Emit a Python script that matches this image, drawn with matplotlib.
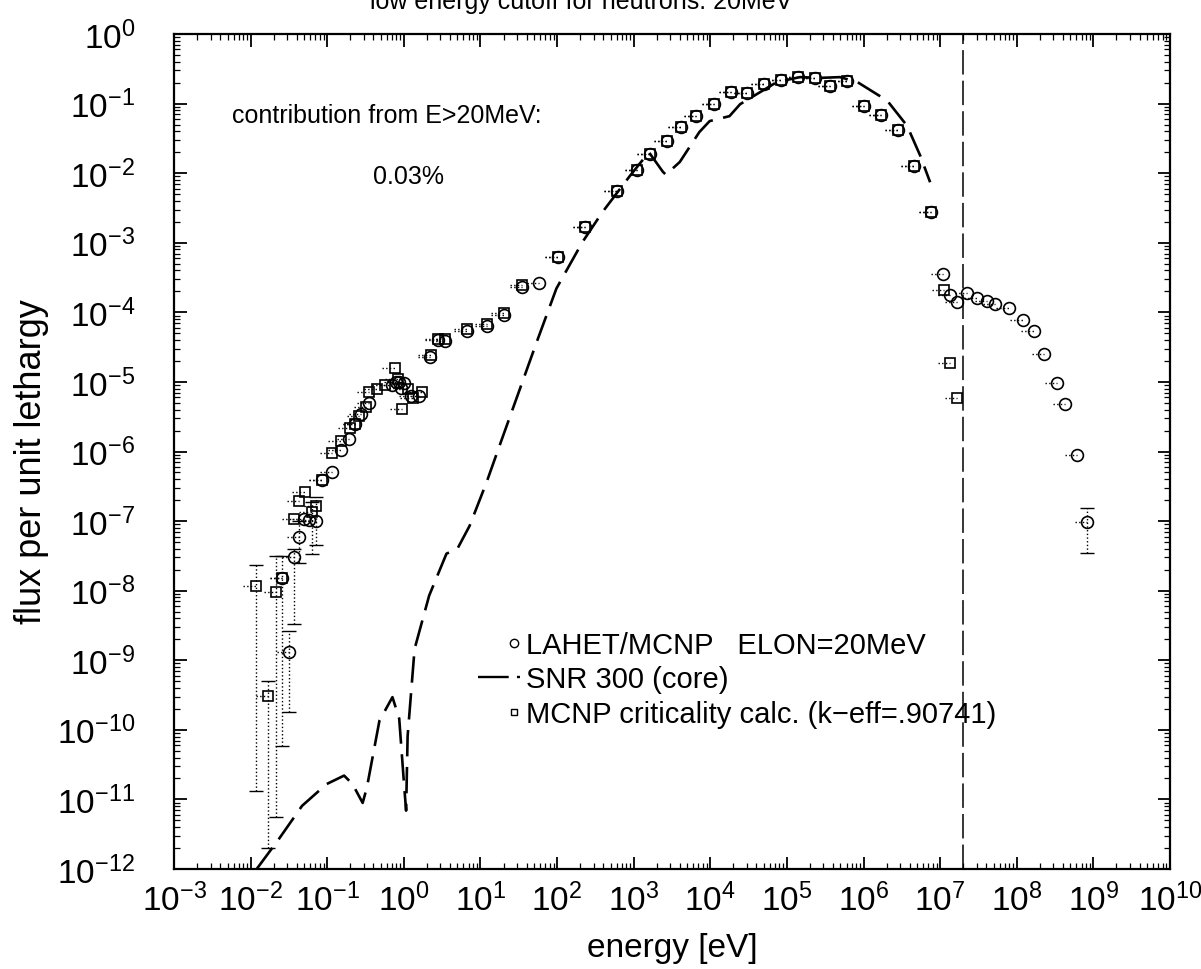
import numpy as np
import matplotlib
matplotlib.use("Agg")
from matplotlib import pyplot as plt
from matplotlib.lines import Line2D
from matplotlib.legend_handler import HandlerLine2D
from matplotlib.ticker import LogLocator, NullFormatter

plt.rcParams['font.family'] = ['Liberation Sans', 'DejaVu Sans']
plt.rcParams['mathtext.default'] = 'regular'

# LAHET/MCNP  ELON=20MeV   (energy [eV], flux per unit lethargy)
lahet_e = [0.026, 0.032, 0.037, 0.043, 0.050, 0.058, 0.072, 0.085, 0.117, 0.15,
           0.195, 0.23, 0.28, 0.35, 0.71, 0.79, 0.87, 0.93, 1.0, 1.25, 1.6,
           2.2, 2.75, 3.4, 6.6, 12.3, 20, 35, 58, 102, 234, 600, 1100, 1620,
           2700, 4100, 6600, 1.12e4, 1.86e4, 3.0e4, 5.0e4, 8.3e4, 1.38e5,
           2.3e5, 3.7e5, 6.0e5, 1.02e6, 1.7e6, 2.8e6, 4.5e6, 7.6e6, 1.1e7,
           1.35e7, 1.66e7, 2.24e7, 3.0e7, 4.1e7, 5.2e7, 7.8e7, 1.2e8, 1.66e8,
           2.3e8, 3.4e8, 4.3e8, 6.2e8, 8.3e8]
lahet_f = [1.5e-8, 1.3e-9, 3.0e-8, 5.9e-8, 1.07e-7, 1.05e-7, 1.0e-7, 3.9e-7,
           5.1e-7, 1.05e-6, 1.5e-6, 2.5e-6, 3.5e-6, 5.0e-6, 8.9e-6, 1.0e-5,
           1.0e-5, 8.3e-6, 9.5e-6, 6.3e-6, 6.3e-6, 2.3e-5, 4.0e-5, 3.9e-5,
           5.4e-5, 6.3e-5, 9.1e-5, 2.3e-4, 2.6e-4, 6.3e-4, 1.7e-3, 5.5e-3,
           1.12e-2, 1.9e-2, 2.9e-2, 4.6e-2, 6.6e-2, 9.8e-2, 0.145, 0.141, 0.19,
           0.22, 0.24, 0.234, 0.18, 0.21, 0.093, 0.069, 0.042, 0.0126, 2.75e-3,
           3.5e-4, 1.75e-4, 1.4e-4, 1.9e-4, 1.62e-4, 1.45e-4, 1.32e-4, 1.15e-4,
           7.8e-5, 5.4e-5, 2.5e-5, 9.8e-6, 4.8e-6, 8.9e-7, 9.8e-8]

# MCNP criticality calc. (k-eff=.90741)
mcnp_e = [0.0117, 0.017, 0.0214, 0.026, 0.037, 0.043, 0.051, 0.063, 0.072,
          0.085, 0.117, 0.15, 0.20, 0.23, 0.26, 0.32, 0.35, 0.44, 0.56, 0.76,
          0.83, 0.95, 1.12, 1.3, 1.7, 2.24, 2.75, 3.4, 6.6, 12.3, 20, 35, 102,
          234, 600, 1100, 1620, 2700, 4100, 6600, 1.12e4, 1.86e4, 3.0e4, 5.0e4,
          8.3e4, 1.38e5, 2.3e5, 3.7e5, 6.0e5, 1.02e6, 1.7e6, 2.8e6, 4.5e6,
          7.6e6, 1.12e7, 1.35e7, 1.66e7]
mcnp_f = [1.17e-8, 3.1e-10, 9.5e-9, 1.5e-8, 1.07e-7, 1.95e-7, 2.6e-7, 1.35e-7,
          1.65e-7, 3.9e-7, 9.5e-7, 1.4e-6, 2.2e-6, 2.5e-6, 3.2e-6, 4.4e-6,
          7.1e-6, 7.9e-6, 8.9e-6, 1.6e-5, 1.1e-5, 4.1e-6, 7.9e-6, 5.8e-6,
          7.1e-6, 2.45e-5, 4.2e-5, 4.1e-5, 5.8e-5, 6.8e-5, 9.8e-5, 2.5e-4,
          6.3e-4, 1.7e-3, 5.6e-3, 1.12e-2, 1.9e-2, 2.9e-2, 4.6e-2, 6.6e-2,
          9.8e-2, 0.145, 0.141, 0.19, 0.22, 0.24, 0.234, 0.18, 0.21, 0.093,
          0.069, 0.042, 0.0126, 2.75e-3, 2.1e-4, 1.85e-5, 5.9e-6]

# vertical (statistical) error bars that are visible in the plot
err_e = [0.0117, 0.017, 0.0214, 0.026, 0.032, 0.037, 0.043, 0.063, 0.072, 8.3e8]
err_f = [1.17e-8, 3.1e-10, 9.5e-9, 1.5e-8, 1.3e-9, 3.0e-8, 5.9e-8, 1.35e-7, 1.0e-7, 9.8e-8]
err_lo = [1.3e-11, 2.0e-12, 5.6e-12, 5.9e-11, 1.8e-10, 3.3e-9, 2.5e-8, 3.4e-8, 4.5e-8, 3.5e-8]
err_hi = [2.3e-8, 5.0e-10, 3.1e-8, 3.1e-8, 2.6e-9, 4.0e-8, 1.0e-7, 1.9e-7, 2.2e-7, 1.55e-7]

# SNR 300 (core)
snr_e = [0.012, 0.0234, 0.047, 0.098, 0.166, 0.214, 0.29, 0.33, 0.48, 0.71,
         0.87, 1.0, 1.07, 1.12, 1.38, 2.14, 3.6, 5.0, 7.2, 12, 18.6, 54, 98,
         214, 390, 890, 1580, 2400, 2630, 4000, 7200, 9800, 1.78e4, 2.45e4,
         4.1e4, 7.4e4, 1.48e5, 2.7e5, 4.9e5, 8.3e5, 2.04e6, 3.7e6, 5.5e6, 7.4e6]
snr_f = [1.0e-12, 2.7e-12, 8.1e-12, 1.66e-11, 2.2e-11, 1.66e-11, 8.9e-12,
         1.5e-11, 1.35e-10, 2.95e-10, 1.45e-10, 1.8e-11, 6.9e-12, 8.1e-11,
         1.45e-9, 8.5e-9, 3.4e-8, 4.0e-8, 8.5e-8, 3.6e-7, 1.4e-6, 3.7e-5,
         2.2e-4, 1.02e-3, 2.75e-3, 9.1e-3, 2.0e-2, 1.05e-2, 9.5e-3, 1.45e-2,
         3.9e-2, 5.6e-2, 6.6e-2, 9.8e-2, 0.138, 0.204, 0.24, 0.234, 0.24,
         0.204, 0.11, 0.048, 0.0178, 7.4e-3]

E_CUT = 2e7   # 20 MeV


class MarkerRight(HandlerLine2D):
    # put the single legend marker near the right end of the handle
    def get_xdata(self, legend, xdescent, ydescent, width, height, fontsize):
        x1 = -xdescent + width
        return [x1 - 0.4 * fontsize, x1], [x1 - 0.2 * fontsize]


W, H = 1201, 970
fig = plt.figure(figsize=(W / 100, H / 100), dpi=100)
ax = fig.add_axes([174 / W, 100 / H, 996 / W, 835 / H])

# small dotted bin-width bars to the left of every point
for e, f in ((lahet_e, lahet_f), (mcnp_e, mcnp_f)):
    e = np.array(e)
    eb = ax.errorbar(e, f, xerr=[e - e / 1.45, np.zeros(len(e))], fmt='none',
                     ecolor='k', elinewidth=1.0)
    eb[2][0].set_linestyle(':')

eb = ax.errorbar(err_e, err_f,
                 yerr=[np.array(err_f) - np.array(err_lo), np.array(err_hi) - np.array(err_f)],
                 fmt='none', ecolor='k', elinewidth=1.0, capsize=5, capthick=1.0)
eb[2][0].set_linestyle(':')

ax.plot(snr_e, snr_f, color='k', lw=1.9, dashes=(10, 4))
ax.plot(lahet_e, lahet_f, 'o', ms=8.5, mfc='none', mec='k', mew=1.2)
ax.plot(mcnp_e, mcnp_f, 's', ms=6.5, mfc='none', mec='k', mew=1.2)
ax.axvline(E_CUT, color='k', lw=1.1, dashes=(16, 4))

ax.set_xscale('log')
ax.set_yscale('log')
ax.set_xlim(1e-3, 1e10)
ax.set_ylim(1e-12, 1)
for a in (ax.xaxis, ax.yaxis):
    a.set_major_locator(LogLocator(base=10, numticks=30))
    a.set_minor_locator(LogLocator(base=10, subs=np.arange(2, 10), numticks=300))
    a.set_minor_formatter(NullFormatter())
ax.tick_params(which='both', direction='in', top=True, right=True)
ax.tick_params(which='major', length=9, width=1.3)
ax.tick_params(which='minor', length=4.5, width=0.9)
ax.tick_params(axis='x', labelsize=24, pad=10)
ax.tick_params(axis='y', labelsize=24, pad=28)
for s in ax.spines.values():
    s.set_linewidth(1.6)

fig.text(672 / W, 1 - 957 / H, "energy [eV]", fontsize=24, ha='center', va='baseline')
fig.text(32 / W, 1 - 462 / H, "flux per unit lethargy", fontsize=26,
         rotation=90, ha='center', va='center')
fig.text(370 / W, 1 - 9 / H, "low energy cutoff for neutrons: 20MeV", fontsize=18,
         ha='left', va='baseline')
fig.text(232 / W, 1 - 123 / H, "contribution from E>20MeV:", fontsize=18, va='baseline')
fig.text(373 / W, 1 - 184 / H, "0.03%", fontsize=18, va='baseline')

circ_h = Line2D([], [], ls='none', marker='o', ms=6, mfc='none', mec='k', mew=1.0)
line_h = Line2D([], [], color='k', lw=1.7, dashes=(13, 3.5))
sq_h = Line2D([], [], ls='none', marker='s', ms=5, mfc='none', mec='k', mew=1.0)
labels = ["LAHET/MCNP   ELON=20MeV", "SNR 300 (core)",
          "MCNP criticality calc. (k\u2212eff=.90741)"]
fig.legend([circ_h, line_h, sq_h], labels, loc='upper left',
           bbox_to_anchor=(478 / W, 1 - 632 / H),
           handler_map={circ_h: MarkerRight(), sq_h: MarkerRight()},
           frameon=False, fontsize=21, handlelength=1.45, handletextpad=0.2,
           labelspacing=0.22, borderpad=0, borderaxespad=0, numpoints=1)

fig.savefig("out.png", dpi=100)
